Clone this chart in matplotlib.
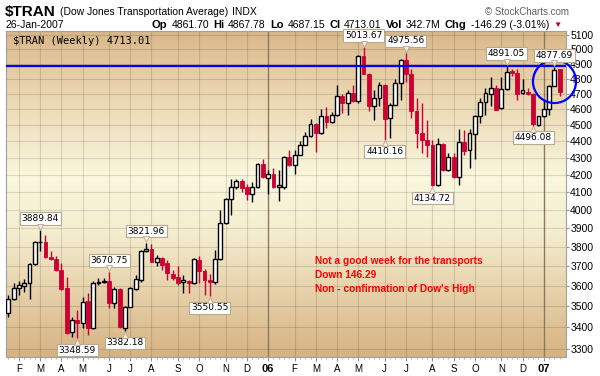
import numpy as np
import pandas as pd
import matplotlib
matplotlib.use("Agg")
import matplotlib.pyplot as plt
import matplotlib.transforms as mtransforms
from matplotlib.ticker import FixedLocator, NullLocator, FuncFormatter, NullFormatter

plt.rcParams['font.family'] = ['Liberation Sans', 'DejaVu Sans']

# weekly bars ($TRAN), week start dates
weeks = pd.date_range("2005-01-24", periods=105, freq="W-MON")

opens = [3469, 3536, 3591, 3602, 3614, 3711, 3826, 3829, 3747, 3737,
         3682, 3591, 3376, 3435, 3419, 3527, 3396, 3614, 3620, 3626,
         3516, 3585, 3396, 3499, 3585, 3631, 3778, 3791, 3724, 3742,
         3717, 3661, 3648, 3620, 3626, 3614, 3733, 3677, 3631, 3619,
         3737, 3927, 4061, 4128, 4167, 4128, 4090, 4128, 4265, 4184,
         4207, 4132, 4132, 4308, 4256, 4318, 4380, 4434, 4508, 4451,
         4556, 4523, 4562, 4687, 4643, 4708, 4656, 4954, 4830, 4624,
         4673, 4758, 4546, 4628, 4769, 4929, 4830, 4589, 4451, 4409,
         4376, 4143, 4385, 4229, 4308, 4188, 4395, 4348, 4446, 4560,
         4650, 4700, 4737, 4609, 4730, 4850, 4840, 4705, 4714, 4700,
         4502, 4556, 4602, 4754, 4861.70]
highs = [3557, 3614, 3625, 3636, 3717, 3834, 3889.84, 3865, 3778, 3754,
         3717, 3648, 3451, 3483, 3546, 3565, 3625, 3643, 3643, 3670.75,
         3595, 3590, 3503, 3595, 3657, 3785, 3821.96, 3815, 3759, 3750,
         3733, 3682, 3700, 3657, 3630, 3742, 3754, 3685, 3661, 3785,
         4001, 4068, 4176, 4176, 4176, 4150, 4161, 4272, 4296, 4229,
         4238, 4229, 4310, 4348, 4348, 4405, 4455, 4540, 4512, 4603,
         4616, 4582, 4758, 4700, 4726, 4758, 4958, 5013.67, 4835, 4726,
         4780, 4765, 4639, 4795, 4930, 4975.56, 4867, 4673, 4639, 4533,
         4409, 4419, 4390, 4328, 4328, 4476, 4471, 4476, 4565, 4673,
         4737, 4812, 4758, 4812, 4891.05, 4867, 4867, 4800, 4737, 4705,
         4560, 4660, 4758, 4877.69, 4867.78]
lows = [3451, 3530, 3557, 3573, 3535, 3705, 3782, 3742, 3733, 3675,
        3582, 3368, 3357, 3348.59, 3396, 3365, 3390, 3606, 3614, 3491,
        3491, 3396, 3382.18, 3495, 3580, 3620, 3775, 3720, 3700, 3682,
        3631, 3631, 3606, 3565, 3565, 3610, 3614, 3555, 3550.55, 3612,
        3733, 3925, 3974, 4117, 4103, 4057, 4046, 4124, 4185, 4090,
        4124, 4053, 4117, 4252, 4207, 4315, 4376, 4430, 4338, 4448,
        4485, 4512, 4559, 4575, 4565, 4650, 4643, 4828, 4589, 4533,
        4620, 4410.16, 4419, 4625, 4660, 4780, 4546, 4358, 4328, 4308,
        4134.72, 4138, 4225, 4225, 4184, 4143, 4318, 4238, 4295, 4512,
        4565, 4620, 4596, 4605, 4726, 4820, 4660, 4700, 4695, 4496.08,
        4498, 4553, 4565, 4750, 4687.15]
closes = [3536, 3591, 3606, 3614, 3711, 3826, 3829, 3747, 3737, 3679,
          3587, 3373, 3435, 3419, 3524, 3396, 3614, 3619, 3626, 3516,
          3585, 3401, 3499, 3591, 3636, 3778, 3791, 3724, 3742, 3708,
          3665, 3643, 3614, 3631, 3614, 3737, 3675, 3631, 3619, 3737,
          3927, 4061, 4128, 4167, 4124, 4090, 4128, 4265, 4188, 4207,
          4130, 4142, 4308, 4256, 4318, 4376, 4434, 4508, 4451, 4556,
          4523, 4562, 4687, 4639, 4705, 4656, 4954, 4830, 4620, 4673,
          4758, 4540, 4628, 4769, 4926, 4830, 4589, 4451, 4409, 4376,
          4143, 4385, 4229, 4308, 4188, 4399, 4340, 4451, 4560, 4650,
          4705, 4737, 4599, 4730, 4847, 4835, 4700, 4722, 4700, 4510,
          4556, 4605, 4754, 4859.30, 4713.01]

# bars that get a value tag
high_tags = [6, 19, 26, 67, 75, 94, 103]
low_tags = [13, 22, 38, 71, 80, 99]

y_ticks = list(range(3300, 5200, 100))
resistance = 4885
note_lines = ["Not a good week for the transports",
              "Down 146.29",
              "Non - confirmation of Dow's High"]

RED = '#cc0033'
W, H = 600, 376
fig = plt.figure(figsize=(6, 3.76), dpi=100)
pos = [6 / W, 1 - 357 / H, 560 / W, 326 / H]

# background gradient
bg = fig.add_axes(pos, zorder=0)
t = np.linspace(0, 1, 300)
stops = [0, 0.12, 0.45, 0.62, 1.0]
cols = np.array([[0.85, 0.72, 0.54], [0.90, 0.80, 0.64], [0.98, 0.97, 0.87],
                 [0.96, 0.93, 0.81], [0.84, 0.70, 0.51]])
img = np.stack([np.interp(t, stops, cols[:, k]) for k in range(3)], axis=1)
bg.imshow(img[:, None, :], aspect='auto', extent=[0, 1, 0, 1])
bg.set_axis_off()

ax = fig.add_axes(pos, zorder=1)
ax.patch.set_alpha(0)

x = np.arange(len(weeks))
o = np.array(opens); h = np.array(highs); l = np.array(lows); c = np.array(closes)
up = c >= o
ax.vlines(x, l, h, colors=np.where(up, 'black', RED), lw=1.0, zorder=3)
blo = np.minimum(o, c); bhi = np.maximum(o, c)
ax.bar(x[up], bhi[up] - blo[up], bottom=blo[up], width=0.72, facecolor='white',
       edgecolor='black', lw=1.0, zorder=4)
ax.bar(x[~up], bhi[~up] - blo[~up], bottom=blo[~up], width=0.72, facecolor=RED,
       edgecolor=RED, lw=0.6, zorder=4)

ax.set_yscale('log')
ax.set_xlim(-0.45, 105.2)
ax.set_ylim(3263, 5128)

# grid / ticks
month_idx = [i for i in range(1, len(weeks)) if weeks[i].month != weeks[i - 1].month]
month_lab = [("%02d" % (weeks[i].year % 100)) if weeks[i].month == 1 else weeks[i].strftime('%b')[0]
             for i in month_idx]
ax.set_xticks(month_idx)
ax.set_xticklabels(month_lab, fontsize=7)
for i, lab in zip(month_idx, ax.get_xticklabels()):
    if weeks[i].month == 1:
        lab.set_fontweight('bold')
        lab.set_fontsize(8)
        ax.axvline(i, color='#a08a6a', lw=1.0, zorder=1)
ax.set_xticks(x, minor=True)
ax.yaxis.set_major_locator(FixedLocator(y_ticks))
ax.yaxis.set_minor_locator(NullLocator())
ax.yaxis.set_major_formatter(FuncFormatter(lambda v, p: "%d" % v))
ax.yaxis.set_minor_formatter(NullFormatter())
ax.yaxis.tick_right()
ax.tick_params(axis='y', which='major', length=2, width=0.6, color='#808080',
               labelsize=7.5, pad=1)
ax.tick_params(axis='x', which='major', length=3, width=0.6, color='#808080', pad=2)
ax.tick_params(axis='x', which='minor', length=1.5, width=0.5, color='#a0a0a0')
ax.grid(True, which='major', color='black', alpha=0.12, lw=0.8, zorder=0)
for s in ax.spines.values():
    s.set_color('#a0a0a0')
    s.set_linewidth(0.8)

# resistance line and circle
ax.axhline(resistance, color='#0000ff', lw=1.6, zorder=5)
ax.plot(103, 4785, marker='o', ms=31, mfc='none', mec='#0000ff', mew=1.6,
        zorder=6, clip_on=False)

# value tags
def tag(i, v, above):
    sgn = 1 if above else -1
    ax.annotate("%.2f" % v, xy=(i, v), xytext=(0, sgn * 5.3), textcoords='offset points',
                ha='center', va='bottom' if above else 'top', fontsize=6.5,
                family=['DejaVu Sans'], zorder=8,
                bbox=dict(boxstyle='square,pad=0.2', fc='white', ec='#b8a890', lw=0.8))
    tr = mtransforms.offset_copy(ax.transData, fig=fig, x=0, y=sgn * 2.6, units='points')
    ax.plot(i, v, marker='v' if above else '^', ms=5, mfc='#f4f0e6', mec='#b8a890',
            mew=0.6, transform=tr, zorder=9, clip_on=False)

for i in high_tags:
    tag(i, highs[i], True)
for i in low_tags:
    tag(i, lows[i], False)

# note
for k, s in enumerate(note_lines):
    fig.text(315 / W, 1 - (261 + 14 * k) / H, s, color='#ff0000', fontsize=7.3,
             fontweight='bold', va='center', ha='left')

ax.text(0.012, 0.985, "$TRAN (Weekly) 4713.01", transform=ax.transAxes, va='top',
        ha='left', fontsize=7.5, family=['DejaVu Sans Mono'], zorder=8)

# header
r = fig.canvas.get_renderer()
def chain(parts, x0, y):
    xx = x0
    for s, kw in parts:
        tt = fig.text(xx / W, 1 - y / H, s, va='center', ha='left', **kw)
        bb = tt.get_window_extent(renderer=r)
        xx = bb.x1 + 4

chain([("$TRAN", dict(fontsize=11, fontweight='bold')),
       ("(Dow Jones Transportation Average)", dict(fontsize=7.5)),
       ("INDX", dict(fontsize=7.5))], 5, 12)
fig.text(569 / W, 1 - 12 / H, "© StockCharts.com", ha='right', va='center',
         fontsize=7, color='#606060')
fig.text(5 / W, 1 - 25 / H, "26-Jan-2007", ha='left', va='center', fontsize=7.5)
B = dict(fontsize=8, fontweight='bold')
N = dict(fontsize=7.5)
chain([("Op", B), ("4861.70", N), ("Hi", B), ("4867.78", N), ("Lo", B), ("4687.15", N),
       ("Cl", B), ("4713.01", N), ("Vol", B), ("342.7M", N), ("Chg", B),
       ("-146.29 (-3.01%)", N), ("▼", dict(fontsize=6, color='#b00030'))], 152, 25)

fig.savefig("out.png", dpi=100)
